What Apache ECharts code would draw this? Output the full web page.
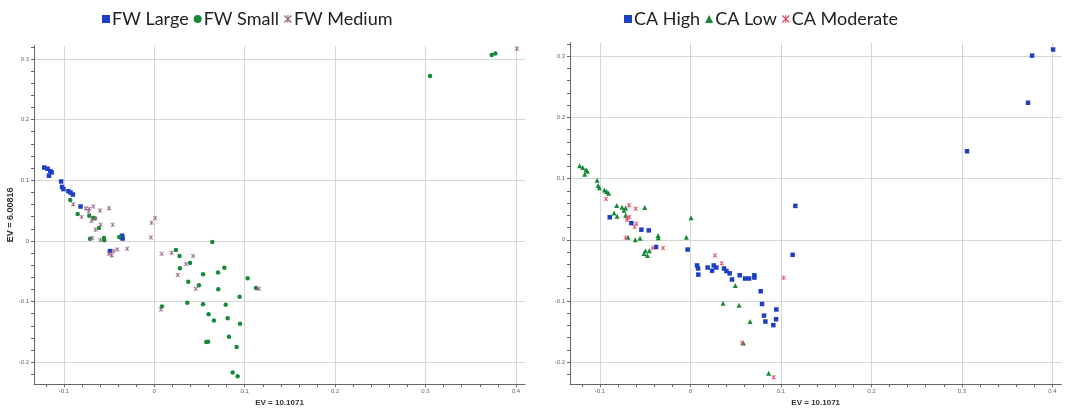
<!DOCTYPE html>
<html>
<head>
<meta charset="utf-8">
<script src="https://cdn.jsdelivr.net/npm/echarts@6/dist/echarts.min.js"></script>
<style>html,body{margin:0;padding:0;background:#fff}#c{width:1068px;height:412px}</style>
</head>
<body>
<div id="c"></div>
<script>
// ---- data ----
const xMajorTicks = [-0.1, 0, 0.1, 0.2, 0.3, 0.4];
const xMinorTicks = [-0.12, -0.1, -0.08, -0.06, -0.04, -0.02, 0, 0.02, 0.04, 0.06, 0.08, 0.1, 0.12, 0.14, 0.16, 0.18, 0.2, 0.22, 0.24, 0.26, 0.28, 0.3, 0.32, 0.34, 0.36, 0.38, 0.4];
const yMajorTicks = [-0.2, -0.1, 0, 0.1, 0.2, 0.3];
const yMinorTicks = [-0.22, -0.2, -0.18, -0.16, -0.14, -0.12, -0.1, -0.08, -0.06, -0.04, -0.02, 0, 0.02, 0.04, 0.06, 0.08, 0.1, 0.12, 0.14, 0.16, 0.18, 0.2, 0.22, 0.24, 0.26, 0.28, 0.3, 0.32];
const xAxisName = 'EV = 10.1071';
const yAxisName = 'EV = 6.00816';

const fwLarge = [[-0.1217,0.121],[-0.118,0.119],[-0.115,0.115],[-0.1135,0.113],[-0.1165,0.1075],[-0.103,0.098],[-0.102,0.089],[-0.1005,0.0855],[-0.095,0.082],[-0.0925,0.0797],[-0.090,0.0765],[-0.0815,0.0567],[-0.036,0.006],[-0.035,0.004],[-0.0355,0.0085],[-0.049,-0.0167]];
const fwSmall = [[-0.093,0.0674],[-0.0847,0.0443],[-0.0719,0.0417],[-0.0675,0.038],[-0.066,0.0375],[-0.0612,0.0213],[-0.071,0.0037],[-0.0556,0.0048],[-0.0553,0.001],[-0.0387,0.0064],[0.0642,-0.0016],[0.024,-0.015],[0.028,-0.0247],[0.0395,-0.0364],[0.0284,-0.045],[0.054,-0.055],[0.0705,-0.052],[0.0775,-0.044],[0.0376,-0.0674],[0.0494,-0.0729],[0.0708,-0.0798],[0.1033,-0.0616],[0.1125,-0.0777],[0.0944,-0.0921],[0.0085,-0.108],[0.0365,-0.1017],[0.0539,-0.1044],[0.079,-0.105],[0.0601,-0.121],[0.066,-0.131],[0.0812,-0.1274],[0.0948,-0.1365],[0.0826,-0.158],[0.091,-0.175],[0.0575,-0.1665],[0.0595,-0.166],[0.0867,-0.2167],[0.0922,-0.223],[0.305,0.2717],[0.3732,0.3066],[0.3772,0.309]];
const fwMedium = [[-0.0896,0.0604],[-0.0803,0.0395],[-0.0756,0.054],[-0.072,0.053],[-0.0675,0.0567],[-0.0726,0.0486],[-0.060,0.050],[-0.050,0.054],[-0.0652,0.0369],[-0.0693,0.033],[-0.0593,0.0267],[-0.046,0.0267],[-0.0648,0.0186],[-0.0686,0.0048],[-0.0597,0.0016],[-0.050,-0.021],[-0.047,-0.0236],[-0.045,-0.0167],[-0.041,-0.014],[-0.030,-0.0128],[-0.003,0.030],[0.001,0.038],[-0.0037,0.0058],[0.0082,-0.021],[0.0192,-0.0193],[0.043,-0.0247],[0.035,-0.038],[0.026,-0.056],[0.046,-0.079],[0.1158,-0.0787],[0.0074,-0.113],[0.401,0.317]];

const caHigh = [[-0.0891,0.0367],[-0.0652,0.0272],[-0.0541,0.0165],[-0.046,0.0153],[-0.0379,-0.0118],[-0.003,-0.016],[0.116,0.0553],[0.0074,-0.042],[0.0085,-0.047],[0.0088,-0.057],[0.0191,-0.0454],[0.024,-0.0506],[0.0258,-0.042],[0.0287,-0.0454],[0.0372,-0.047],[0.0398,-0.0511],[0.0434,-0.0549],[0.046,-0.065],[0.0545,-0.0581],[0.0604,-0.0634],[0.0649,-0.0634],[0.0707,-0.0581],[0.0707,-0.0618],[0.0777,-0.0842],[0.0792,-0.105],[0.095,-0.114],[0.0814,-0.124],[0.0829,-0.1337],[0.0947,-0.130],[0.0917,-0.1396],[0.113,-0.0246],[0.3057,0.1447],[0.3731,0.224],[0.3776,0.301],[0.4008,0.311]];
const caLow = [[-0.1223,0.1208],[-0.119,0.118],[-0.1153,0.1144],[-0.1138,0.1118],[-0.1168,0.107],[-0.103,0.0974],[-0.102,0.0888],[-0.1005,0.0851],[-0.095,0.0815],[-0.0925,0.0788],[-0.0903,0.076],[-0.0814,0.0559],[-0.0755,0.0532],[-0.0715,0.0521],[-0.0733,0.0484],[-0.0505,0.0527],[-0.0843,0.0436],[-0.081,0.0383],[-0.0715,0.040],[-0.0357,0.0069],[-0.0354,0.0032],[-0.0608,0.0],[-0.0556,0.0026],[-0.0689,0.0042],[-0.0044,0.0042],[0.0008,0.036],[-0.0497,-0.018],[-0.0512,-0.0224],[-0.0475,-0.0256],[-0.0453,-0.018],[0.0497,-0.075],[0.0361,-0.1038],[0.0538,-0.107],[0.066,-0.1337],[0.0586,-0.1688],[0.0865,-0.2184]];
const caModerate = [[-0.0932,0.0665],[-0.0678,0.0564],[-0.0604,0.0505],[-0.0696,0.0356],[-0.0674,0.0372],[-0.07,0.0324],[-0.0597,0.026],[-0.0615,0.0208],[-0.0715,0.0032],[-0.0416,-0.0134],[-0.0302,-0.0134],[0.0272,-0.0256],[0.0346,-0.0384],[0.1031,-0.0623],[0.0571,-0.1684],[0.092,-0.2248]];

// ---- styling ----
const X_MIN = -0.133, X_MAX = 0.41, Y_MIN = -0.236, Y_MAX = 0.322;
const BLUE = '#1d3fc6', GREEN = '#168a38', MAUVE = '#a06a8c', RED = '#e2546c';
const STAR = 'path://M0,1.2 L1.2,0 L5,3.8 L8.8,0 L10,1.2 L6.2,5 L10,8.8 L8.8,10 L5,6.2 L1.2,10 L0,8.8 L3.8,5 Z M4.3,0 L5.7,0 L5.7,10 L4.3,10 Z';
const LBL = {fontSize: 6, color: '#666', fontFamily: 'Liberation Sans'};

function mainX(gi, showName) {
  return {
    type: 'value', gridIndex: gi, min: X_MIN, max: X_MAX, position: 'bottom',
    name: showName ? xAxisName : '', nameLocation: 'middle', nameGap: 11,
    nameTextStyle: {fontSize: 8, fontWeight: 'bold', color: '#333', fontFamily: 'Liberation Sans'},
    axisLine: {show: true, onZero: false, lineStyle: {color: '#666', width: 1}},
    axisTick: {show: true, length: 3, customValues: xMinorTicks, lineStyle: {color: '#666'}},
    axisLabel: {show: true, margin: 4, customValues: xMajorTicks, ...LBL},
    splitLine: {show: false}
  };
}
function gridX(gi) {
  return {
    type: 'value', gridIndex: gi, min: X_MIN, max: X_MAX, position: 'bottom',
    axisLine: {show: false}, axisLabel: {show: false},
    axisTick: {show: false, customValues: xMajorTicks},
    splitLine: {show: true, lineStyle: {color: '#d6d6d6', width: 1}}
  };
}
function mainY(gi, showName) {
  return {
    type: 'value', gridIndex: gi, min: Y_MIN, max: Y_MAX, position: 'left',
    name: showName ? yAxisName : '', nameLocation: 'middle', nameGap: 15, nameRotate: 90,
    nameTextStyle: {fontSize: 9, fontWeight: 'bold', color: '#333', fontFamily: 'Liberation Sans'},
    axisLine: {show: true, onZero: false, lineStyle: {color: '#666', width: 1}},
    axisTick: {show: true, length: 3, customValues: yMinorTicks, lineStyle: {color: '#666'}},
    axisLabel: {show: true, margin: 5, customValues: yMajorTicks, ...LBL},
    splitLine: {show: false}
  };
}
function gridY(gi) {
  return {
    type: 'value', gridIndex: gi, min: Y_MIN, max: Y_MAX, position: 'left',
    axisLine: {show: false}, axisLabel: {show: false},
    axisTick: {show: false, customValues: yMajorTicks},
    splitLine: {show: true, lineStyle: {color: '#d6d6d6', width: 1}}
  };
}
function sc(name, data, axis, symbol, size, color) {
  return {
    type: 'scatter', name, data, xAxisIndex: axis, yAxisIndex: axis,
    symbol, symbolSize: size, itemStyle: {color, opacity: 1}, silent: true, z: 3
  };
}
const legendText = {fontSize: 18, color: '#222', fontFamily: 'Lato', padding: [0, 0, 0, -3]};

const chart = echarts.init(document.getElementById('c'), null, {renderer: 'canvas'});
chart.setOption({
  animation: false,
  backgroundColor: '#fff',
  grid: [
    {left: 34, top: 45.6, width: 491, height: 347.6},
    {left: 570, top: 42.8, width: 491.4, height: 349.3}
  ],
  legend: [
    {left: 97, top: 5, itemWidth: 8, itemHeight: 8, itemGap: 5, textStyle: legendText,
     data: [{name: 'FW Large', icon: 'rect'}, {name: 'FW Small', icon: 'circle'}, {name: 'FW Medium', icon: STAR, itemStyle: {color: MAUVE}}]},
    {left: 619, top: 5, itemWidth: 8, itemHeight: 8, itemGap: 5, textStyle: legendText,
     data: [{name: 'CA High', icon: 'rect'}, {name: 'CA Low', icon: 'triangle'}, {name: 'CA Moderate', icon: STAR}]}
  ],
  xAxis: [mainX(0, true), gridX(0), mainX(1, true), gridX(1)],
  yAxis: [mainY(0, true), gridY(0), mainY(1, false), gridY(1)],
  series: [
    sc('FW Large', fwLarge, 0, 'rect', 4.5, BLUE),
    sc('FW Small', fwSmall, 0, 'circle', 4.5, GREEN),
    sc('FW Medium', fwMedium, 0, STAR, 4.5, MAUVE),
    sc('CA High', caHigh, 2, 'rect', 4.5, BLUE),
    sc('CA Low', caLow, 2, 'triangle', 5, GREEN),
    sc('CA Moderate', caModerate, 2, STAR, 4.5, RED)
  ]
});
</script>
</body>
</html>
